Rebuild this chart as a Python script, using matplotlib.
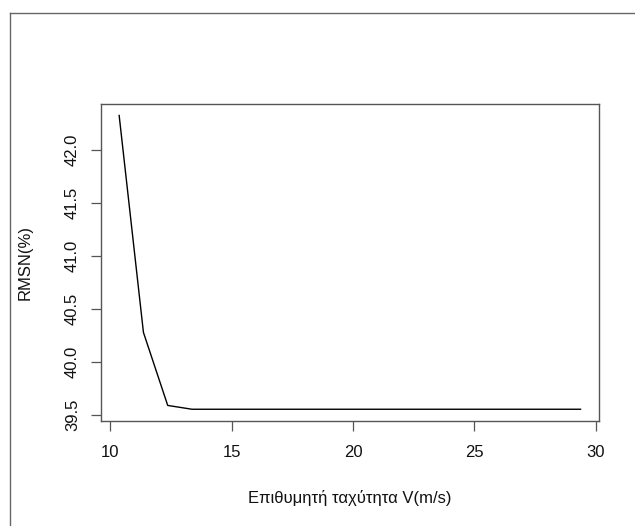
import matplotlib
matplotlib.use("Agg")
import matplotlib.pyplot as plt
from matplotlib.lines import Line2D

# Data
speed = [10.37, 11.37, 12.37, 13.37, 14.37, 15.37, 16.37, 17.37, 18.37, 19.37,
         20.37, 21.37, 22.37, 23.37, 24.37, 25.37, 26.37, 27.37, 28.37, 29.37]
rmsn = [42.325, 40.277, 39.588, 39.552, 39.552, 39.552, 39.552, 39.552, 39.552, 39.552,
        39.552, 39.552, 39.552, 39.552, 39.552, 39.552, 39.552, 39.552, 39.552, 39.552]
xticks = [10, 15, 20, 25, 30]
yticks = [39.5, 40.0, 40.5, 41.0, 41.5, 42.0]
ytick_labels = ["39.5", "40.0", "40.5", "41.0", "41.5", "42.0"]
xlabel = "Επιθυμητή ταχύτητα V(m/s)"
ylabel = "RMSN(%)"

plt.rcParams['font.family'] = ['Liberation Sans', 'DejaVu Sans']

W, H = 635, 526
fig = plt.figure(figsize=(W / 100, H / 100), dpi=100)
fig.patch.set_facecolor('white')

# outer border (top & left visible)
fig.add_artist(Line2D([10.3 / W, 10.3 / W], [0, 1 - 13.3 / H], color='#666666', lw=1.0,
                      transform=fig.transFigure))
fig.add_artist(Line2D([10.3 / W, 1], [1 - 13.3 / H, 1 - 13.3 / H], color='#666666', lw=1.0,
                      transform=fig.transFigure))

L, R, T, B = 100.7, 599, 103.7, 421
ax = fig.add_axes([L / W, 1 - B / H, (R - L) / W, (B - T) / H])
ax.plot(speed, rmsn, color='black', lw=1.0)

xr = max(speed) - min(speed)
yr = max(rmsn) - min(rmsn)
ax.set_xlim(min(speed) - 0.04 * xr, max(speed) + 0.04 * xr)
ax.set_ylim(min(rmsn) - 0.04 * yr, max(rmsn) + 0.04 * yr)

ax.set_xticks(xticks)
ax.set_xticklabels([str(v) for v in xticks])
ax.set_yticks(yticks)
ax.set_yticklabels(ytick_labels, rotation=90, va='center')

for s in ax.spines.values():
    s.set_color('#555555')
    s.set_linewidth(1.0)

ax.tick_params(axis='both', length=7.5, width=0.9, color='#555555', labelsize=12,
               labelcolor='#111111')
ax.tick_params(axis='x', pad=10)
ax.tick_params(axis='y', pad=7.5)

ax.set_xlabel(xlabel, fontsize=12, color='#111111', va='center')
ax.xaxis.set_label_coords(0.5, (B - 498) / (B - T))
ax.set_ylabel(ylabel, fontsize=12, color='#111111', va='center')
ax.yaxis.set_label_coords((25 - L) / (R - L), 0.5)

fig.savefig("out.png", dpi=100, facecolor='white')
